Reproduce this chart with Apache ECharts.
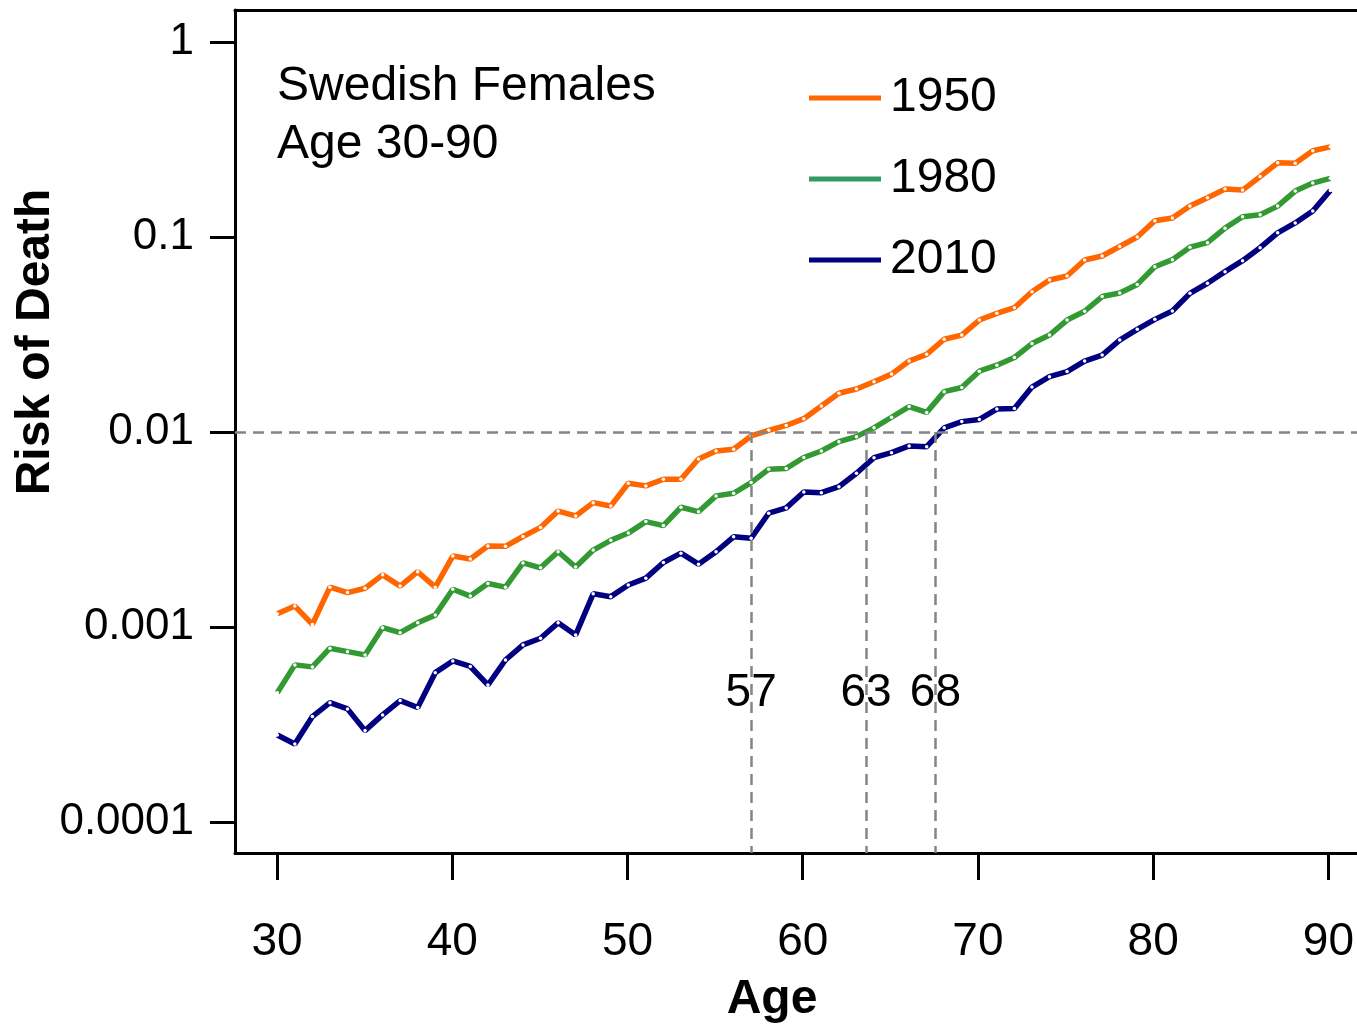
<!DOCTYPE html>
<html>
<head>
<meta charset="utf-8">
<script src="https://cdn.jsdelivr.net/npm/echarts@6/dist/echarts.min.js"></script>
<style>
  html, body { margin: 0; padding: 0; background: #fff; }
  #chart { width: 1357px; height: 1026px; }
</style>
</head>
<body>
<div id="chart"></div>
<script>
// ages 30..90
var ages = [30, 31, 32, 33, 34, 35, 36, 37, 38, 39,
            40, 41, 42, 43, 44, 45, 46, 47, 48, 49,
            50, 51, 52, 53, 54, 55, 56, 57, 58, 59,
            60, 61, 62, 63, 64, 65, 66, 67, 68, 69,
            70, 71, 72, 73, 74, 75, 76, 77, 78, 79,
            80, 81, 82, 83, 84, 85, 86, 87, 88, 89, 90];

var risk1950 = [0.00117, 0.00128, 0.00103, 0.00160, 0.00150, 0.00158, 0.00185, 0.00162, 0.00192, 0.00160,
                0.00231, 0.00223, 0.00260, 0.00259, 0.00291, 0.00324, 0.00393, 0.00371, 0.00434, 0.00417,
                0.00546, 0.00529, 0.00572, 0.00572, 0.00727, 0.00799, 0.00815, 0.00954, 0.0102, 0.0108,
                0.0117, 0.0136, 0.0158, 0.0166, 0.0181, 0.0198, 0.0231, 0.0250, 0.0299, 0.0314,
                0.0375, 0.0406, 0.0434, 0.0524, 0.0602, 0.0631, 0.0762, 0.0799, 0.0894, 0.100,
                0.121, 0.125, 0.144, 0.159, 0.176, 0.174, 0.204, 0.240, 0.239, 0.277, 0.290];

var risk1980 = [0.000460, 0.000639, 0.000624, 0.000778, 0.000747, 0.000719, 0.000992, 0.000935, 0.00105, 0.00115,
                0.00156, 0.00144, 0.00167, 0.00160, 0.00213, 0.00201, 0.00243, 0.00203, 0.00248, 0.00278,
                0.00303, 0.00347, 0.00331, 0.00411, 0.00390, 0.00470, 0.00485, 0.00550, 0.00644, 0.00650,
                0.00740, 0.00799, 0.00892, 0.00946, 0.0105, 0.0119, 0.0135, 0.0126, 0.0161, 0.0169,
                0.0205, 0.0220, 0.0241, 0.0284, 0.0314, 0.0375, 0.0416, 0.0495, 0.0516, 0.0571,
                0.0704, 0.0765, 0.0886, 0.0935, 0.111, 0.127, 0.130, 0.144, 0.172, 0.189, 0.200];

var risk2010 = [0.000279, 0.000251, 0.000347, 0.000409, 0.000380, 0.000294, 0.000354, 0.000419, 0.000386, 0.000583,
                0.000669, 0.000627, 0.000504, 0.000677, 0.000809, 0.000875, 0.00105, 0.000910, 0.00148, 0.00143,
                0.00164, 0.00178, 0.00214, 0.00239, 0.00210, 0.00243, 0.00290, 0.00285, 0.00383, 0.00408,
                0.00492, 0.00488, 0.00524, 0.00614, 0.00738, 0.00783, 0.00848, 0.00841, 0.0105, 0.0113,
                0.0116, 0.0131, 0.0132, 0.0170, 0.0192, 0.0204, 0.0231, 0.0248, 0.0296, 0.0336,
                0.0378, 0.0417, 0.0514, 0.0579, 0.0664, 0.0756, 0.0881, 0.105, 0.118, 0.136, 0.173];

var seriesNames = ['1950', '1980', '2010'];
var lineColors = ['#ff6600', '#339933', '#000080'];
var legendColors = ['#ff6600', '#339966', '#000080'];

// threshold and the ages where each curve reaches it
var threshold = 0.01;
var crossAges = [57.0, 63.55, 67.5];
var crossLabels = ['57', '63', '68'];
var crossLabelRisk = 0.000455;

var yTickLabels = ['0.0001', '0.001', '0.01', '0.1', '1'];

var FONT = '"Liberation Sans", Arial, sans-serif';

function pairs(xs, ys) {
  return xs.map(function (x, i) { return [x, ys[i]]; });
}

var chart = echarts.init(document.getElementById('chart'), null, { renderer: 'canvas' });

var lineSeries = [risk1950, risk1980, risk2010].map(function (vals, i) {
  return {
    name: seriesNames[i],
    type: 'line',
    xAxisIndex: 0,
    yAxisIndex: 0,
    data: pairs(ages, vals),
    showSymbol: true,
    symbol: 'circle',
    symbolSize: 3.5,
    itemStyle: { color: '#ffffff', borderWidth: 0 },
    lineStyle: { color: lineColors[i], width: 5.5 },
    z: 3
  };
});

var option = {
  animation: false,
  backgroundColor: '#ffffff',
  textStyle: { fontFamily: FONT },
  grid: [
    // frame + data
    { left: 235, right: 0, top: 10, bottom: 173 },
    // y ticks (1e-4 .. 1)
    { left: 235, right: 0, top: 42, bottom: 204 },
    // x ticks (30 .. 90)
    { left: 277, right: 27, top: 10, bottom: 173 }
  ],
  xAxis: [
    {
      gridIndex: 0, type: 'value', min: 27.59, max: 91.52, position: 'bottom',
      axisLine: { show: true, lineStyle: { color: '#000', width: 3 } },
      axisTick: { show: false }, axisLabel: { show: false }, splitLine: { show: false }
    },
    {
      gridIndex: 0, type: 'value', min: 27.59, max: 91.52, position: 'top',
      axisLine: { show: true, lineStyle: { color: '#000', width: 3 } },
      axisTick: { show: false }, axisLabel: { show: false }, splitLine: { show: false }
    },
    { gridIndex: 1, type: 'value', show: false },
    {
      gridIndex: 2, type: 'value', min: 30, max: 90, interval: 10, position: 'bottom',
      axisLine: { show: false },
      axisTick: { show: true, inside: false, length: 27, lineStyle: { color: '#000', width: 3 } },
      axisLabel: { show: true, margin: 66, fontSize: 46, lineHeight: 46, color: '#000', fontFamily: FONT },
      splitLine: { show: false }
    }
  ],
  yAxis: [
    {
      gridIndex: 0, type: 'log', logBase: 10, min: 6.93e-5, max: 1.459, position: 'left',
      axisLine: { show: true, lineStyle: { color: '#000', width: 3 } },
      axisTick: { show: false }, axisLabel: { show: false }, splitLine: { show: false }
    },
    {
      gridIndex: 1, type: 'log', logBase: 10, min: 0.0001, max: 1, position: 'left',
      axisLine: { show: false },
      axisTick: { show: true, inside: false, length: 25, lineStyle: { color: '#000', width: 3 } },
      axisLabel: {
        show: true, margin: 41, fontSize: 44, color: '#000', fontFamily: FONT,
        formatter: function (v) {
          var k = Math.round(Math.log(v) / Math.LN10) + 4;
          return yTickLabels[k] || '';
        }
      },
      splitLine: { show: false }
    },
    { gridIndex: 2, type: 'value', show: false }
  ],
  legend: {
    orient: 'vertical',
    left: 809,
    top: 74,
    padding: 0,
    itemWidth: 72,
    itemHeight: 5,
    itemGap: 33,
    icon: 'rect',
    textStyle: { fontSize: 48, lineHeight: 48, color: '#000', fontFamily: FONT, padding: [0, 0, 0, 4] },
    data: seriesNames.map(function (n, i) {
      return { name: n, itemStyle: { color: legendColors[i] } };
    })
  },
  graphic: [
    {
      type: 'text', x: 277, y: 87,
      style: { text: 'Swedish Females', font: '48px ' + FONT, fill: '#000', textAlign: 'left', textVerticalAlign: 'middle' }
    },
    {
      type: 'text', x: 277, y: 145,
      style: { text: 'Age 30-90', font: '48px ' + FONT, fill: '#000', textAlign: 'left', textVerticalAlign: 'middle' }
    },
    {
      type: 'text', x: 36, y: 342, rotation: Math.PI / 2,
      style: { text: 'Risk of Death', font: 'bold 48px ' + FONT, fill: '#000', textAlign: 'center', textVerticalAlign: 'middle' }
    },
    {
      type: 'text', x: 772, y: 1000,
      style: { text: 'Age', font: 'bold 48px ' + FONT, fill: '#000', textAlign: 'center', textVerticalAlign: 'middle' }
    }
  ],
  series: [
    {
      name: 'ref',
      type: 'line',
      xAxisIndex: 0,
      yAxisIndex: 0,
      data: [],
      z: 1,
      markLine: {
        silent: true,
        symbol: 'none',
        label: { show: false },
        lineStyle: { color: '#858585', width: 2.5, type: [11, 7] },
        data: [{ yAxis: threshold }].concat(crossAges.map(function (a) {
          return [{ coord: [a, threshold] }, { coord: [a, 6.93e-5] }];
        }))
      }
    },
    {
      name: 'crossLabels',
      type: 'scatter',
      xAxisIndex: 0,
      yAxisIndex: 0,
      symbolSize: 0,
      z: 2,
      itemStyle: { opacity: 1 },
      data: crossAges.map(function (a, i) { return { value: [a, crossLabelRisk], name: crossLabels[i] }; }),
      label: {
        show: true, position: 'inside', formatter: '{b}', opacity: 1,
        fontSize: 46, color: '#000000', fontFamily: FONT,
        backgroundColor: '#ffffff', padding: [4, 0]
      }
    }
  ].concat(lineSeries)
};

chart.setOption(option);
</script>
</body>
</html>
